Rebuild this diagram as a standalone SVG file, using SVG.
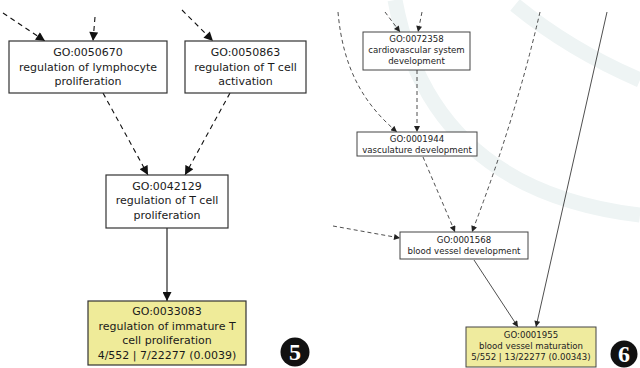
<svg xmlns="http://www.w3.org/2000/svg" width="640" height="368" viewBox="0 0 640 368">
<style>
.box{fill:#ffffff;stroke:#333333;stroke-width:1.2}
.hit{fill:#efeb99;stroke:#333333;stroke-width:1.2}
.bs{fill:#ffffff;stroke:#444444;stroke-width:1}
.hs{fill:#efeb9e;stroke:#444444;stroke-width:1}
.t{font-family:"DejaVu Sans",sans-serif;font-size:11px;fill:#1a1a1a;text-anchor:middle}
.ts{font-family:"DejaVu Sans",sans-serif;font-size:8.6px;fill:#222222;text-anchor:middle}
.d{fill:none;stroke:#111111;stroke-width:1.1;stroke-dasharray:5 4}
.s{fill:none;stroke:#111111;stroke-width:1.1}
.ds{fill:none;stroke:#222222;stroke-width:0.8;stroke-dasharray:4 3}
.ss{fill:none;stroke:#222222;stroke-width:0.8}
.num{fill:#111111}
.nt{font-family:"Liberation Serif",serif;font-weight:bold;font-size:24px;fill:#ffffff;text-anchor:middle}
</style>
<defs>
<marker id="ah" viewBox="0 0 10 10" refX="10" refY="5" markerUnits="userSpaceOnUse" markerWidth="10" markerHeight="9" orient="auto"><path d="M0,0 L10,5 L0,10 z" fill="#111111"/></marker>
<marker id="ahs" viewBox="0 0 10 10" refX="10" refY="5" markerUnits="userSpaceOnUse" markerWidth="7" markerHeight="6" orient="auto"><path d="M0,0 L10,5 L0,10 z" fill="#222222"/></marker>
</defs>
<rect width="640" height="368" fill="#ffffff"/>
<g id="watermark" fill="none" stroke="#eef4f4" stroke-width="15">
<path d="M395,0 Q430,190 640,215"/>
<path d="M515,5 Q570,50 640,80"/>
</g>
<g id="connectors">
<path class="d" d="M3,13 L45,41" marker-end="url(#ah)"/>
<path class="d" d="M95,17 L93,41" marker-end="url(#ah)"/>
<path class="d" d="M182,10 L213,41" marker-end="url(#ah)"/>
<path class="d" d="M103,93 L148,175" marker-end="url(#ah)"/>
<path class="d" d="M230,93 L185,175" marker-end="url(#ah)"/>
<path class="s" d="M167,228 L167,301" marker-end="url(#ah)"/>
<path class="ds" d="M385,12 L400,32" marker-end="url(#ahs)"/>
<path class="ds" d="M422,12 L418,32" marker-end="url(#ahs)"/>
<path class="ds" d="M417,70 L417,132" marker-end="url(#ahs)"/>
<path class="ds" d="M338,12 C343,70 365,105 397,132" marker-end="url(#ahs)"/>
<path class="ds" d="M423,157 L455,232" marker-end="url(#ahs)"/>
<path class="ds" d="M540,12 Q515,120 472,232" marker-end="url(#ahs)"/>
<path class="ds" d="M333,226 L400,238" marker-end="url(#ahs)"/>
<path class="ss" d="M474,260 L518,327" marker-end="url(#ahs)"/>
<path class="ss" d="M607,12 L536,327" marker-end="url(#ahs)"/>
</g>
<g id="GO0050670">
<rect class="box" x="9" y="41" width="158" height="52"/>
<text class="t" x="88" y="56">GO:0050670</text>
<text class="t" x="88" y="71">regulation of lymphocyte</text>
<text class="t" x="88" y="85">proliferation</text>
</g>
<g id="GO0050863">
<rect class="box" x="185" y="41" width="121" height="52"/>
<text class="t" x="245.5" y="56">GO:0050863</text>
<text class="t" x="245.5" y="71">regulation of T cell</text>
<text class="t" x="245.5" y="85">activation</text>
</g>
<g id="GO0042129">
<rect class="box" x="106" y="175" width="122" height="53"/>
<text class="t" x="167" y="190">GO:0042129</text>
<text class="t" x="167" y="204">regulation of T cell</text>
<text class="t" x="167" y="219">proliferation</text>
</g>
<g id="GO0033083">
<rect class="hit" x="88" y="301" width="158" height="64"/>
<text class="t" x="167" y="315">GO:0033083</text>
<text class="t" x="167" y="330">regulation of immature T</text>
<text class="t" x="167" y="344">cell proliferation</text>
<text class="t" x="167" y="359">4/552 | 7/22277 (0.0039)</text>
</g>
<g id="label5">
<circle class="num" cx="295" cy="352" r="14.5"/>
<text class="nt" x="295" y="360">5</text>
</g>
<g id="GO0072358">
<rect class="bs" x="363" y="32" width="107" height="38"/>
<text class="ts" x="416.5" y="42">GO:0072358</text>
<text class="ts" x="416.5" y="53">cardiovascular system</text>
<text class="ts" x="416.5" y="64">development</text>
</g>
<g id="GO0001944">
<rect class="bs" x="357" y="132" width="120" height="24"/>
<text class="ts" x="417" y="142">GO:0001944</text>
<text class="ts" x="417" y="153">vasculature development</text>
</g>
<g id="GO0001568">
<rect class="bs" x="400" y="232" width="128" height="27"/>
<text class="ts" x="464" y="243">GO:0001568</text>
<text class="ts" x="464" y="254">blood vessel development</text>
</g>
<g id="GO0001955">
<rect class="hs" x="466" y="327" width="130" height="40"/>
<text class="ts" x="531" y="338">GO:0001955</text>
<text class="ts" x="531" y="349">blood vessel maturation</text>
<text class="ts" x="531" y="360">5/552 | 13/22277 (0.00343)</text>
</g>
<g id="label6">
<circle class="num" cx="624" cy="354" r="13.5"/>
<text class="nt" x="624" y="362">6</text>
</g>
</svg>
